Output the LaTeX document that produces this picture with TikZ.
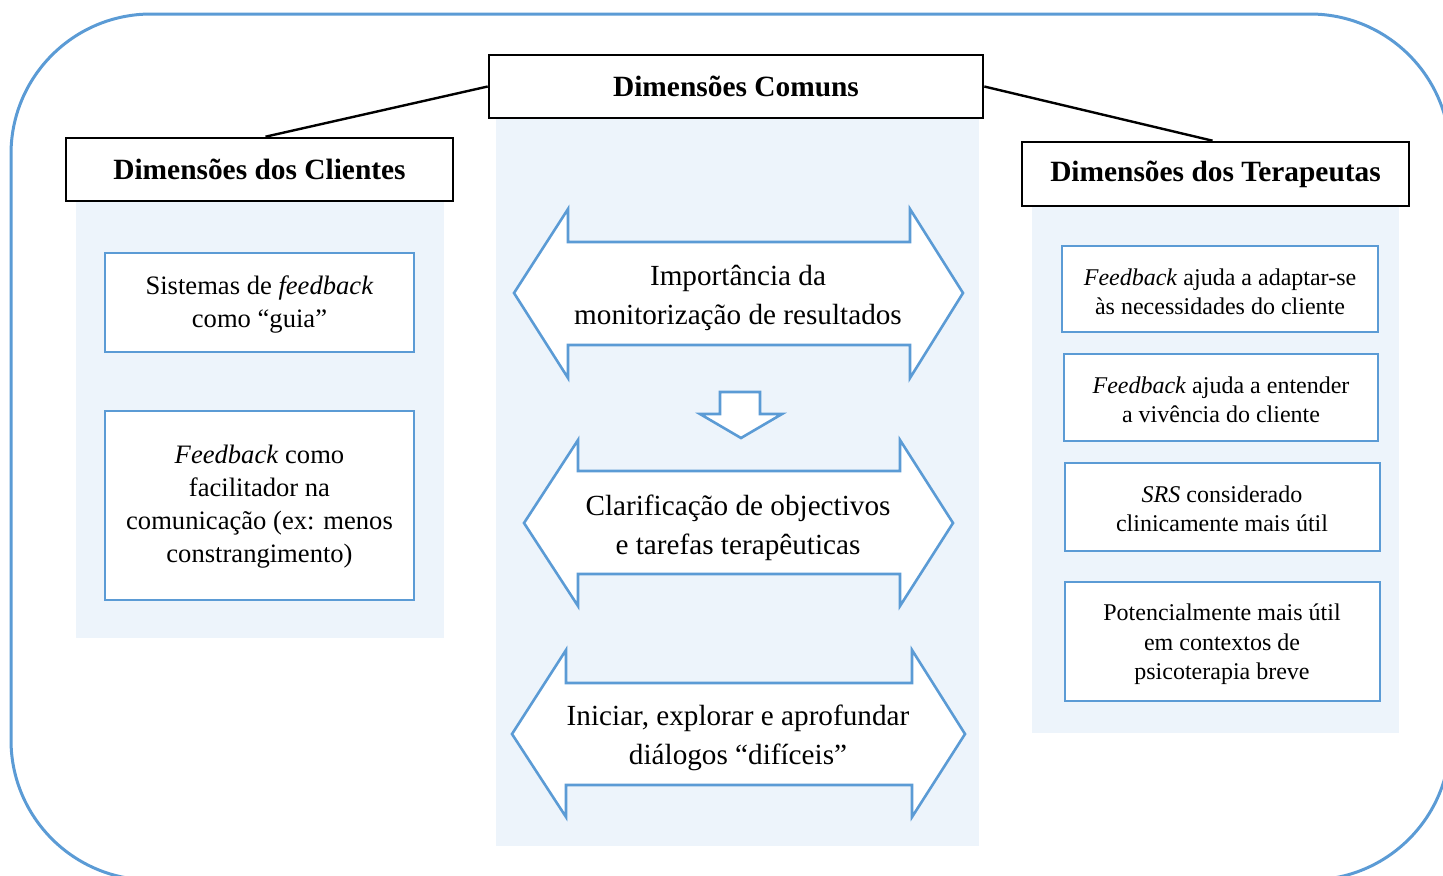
\documentclass[tikz,border=0pt]{standalone}
\usepackage{fontspec}
\setmainfont{Liberation Serif}
\usepackage{tikz}
\definecolor{boxblue}{RGB}{91,155,213}
\definecolor{panelblue}{RGB}{237,244,251}
\tikzset{
  panel/.style={fill=panelblue, draw=none},
  header/.style={draw=black, line width=1.3pt, fill=white, inner sep=0pt,
    font=\fontsize{14.7}{18}\selectfont\bfseries},
  itembox/.style={draw=boxblue, line width=1.4pt, fill=white, inner sep=0pt},
  bigarrow/.style={draw=boxblue, line width=1.3pt, fill=white, line join=miter},
  midtext/.style={align=center, font=\fontsize{14.6}{19.5}\selectfont},
  lefttext/.style={align=center, font=\fontsize{13.3}{16.5}\selectfont},
  righttext/.style={align=center, font=\fontsize{12}{14.75}\selectfont},
}
\begin{document}
\begin{tikzpicture}[x=0.5pt, y=-0.5pt]
  \clip (0,0) rectangle (1443,875);
  % outer frame
  \draw[draw=boxblue, line width=1.5pt, rounded corners=70pt] (11,14) rectangle (1450,880);
  % shaded panels
  \fill[panel] (76,200) rectangle (444,638);
  \fill[panel] (496,118) rectangle (979,846);
  \fill[panel] (1032,205) rectangle (1399,733);
  % headers
  \node[header, minimum width=247pt, minimum height=31.5pt] (comuns) at (736,86.5) {Dimensões Comuns};
  \node[header, minimum width=193.5pt, minimum height=31.5pt] (clientes) at (259.5,169.5) {Dimensões dos Clientes};
  \node[header, minimum width=193.5pt, minimum height=32pt] (terapeutas) at (1215.5,174) {\raisebox{-1pt}{Dimensões dos Terapeutas}};
  \draw[line width=1.2pt] (comuns.west) -- ([xshift=3pt]clientes.north);
  \draw[line width=1.2pt] (comuns.east) -- ([xshift=-1.5pt]terapeutas.north);
  % client boxes
  \node[itembox, minimum width=154.5pt, minimum height=49.5pt] (guia) at (259.5,302.5) {};
  \node[lefttext] (guiatxt) at (259.5,304.5) {Sistemas de \emph{feedback}\\como “guia”};
  \node[itembox, minimum width=154.5pt, minimum height=94.5pt] (facil) at (259.5,505.5) {};
  \node[lefttext] (faciltxt) at (259.5,507) {\emph{Feedback} como\\facilitador na\\comunicação (ex: menos\\constrangimento)};
  % common arrows
  \draw[bigarrow] (514,293) -- (568,209) -- (568,242) -- (910,242) -- (910,209) -- (963,293)
    -- (910,378) -- (910,345) -- (568,345) -- (568,378) -- cycle;
  \node[midtext] (monit) at (738,298) {Importância da\\monitorização de resultados};
  \draw[bigarrow] (720,392) -- (760,392) -- (760,414) -- (782,414) -- (741,438) -- (700,414) -- (720,414) -- cycle;
  \draw[bigarrow] (524,523) -- (578,440) -- (578,471) -- (900,471) -- (900,440) -- (953,523)
    -- (900,606) -- (900,574) -- (578,574) -- (578,606) -- cycle;
  \node[midtext] (objec) at (738,528) {Clarificação de objectivos\\e tarefas terapêuticas};
  \draw[bigarrow] (512,734) -- (566,650) -- (566,683) -- (912,683) -- (912,650) -- (965,734)
    -- (912,817) -- (912,785) -- (566,785) -- (566,817) -- cycle;
  \node[midtext] (dialog) at (738,738) {Iniciar, explorar e aprofundar\\diálogos “difíceis”};
  % therapist boxes
  \node[itembox, minimum width=158pt, minimum height=43pt] (adapt) at (1220,289) {};
  \node[righttext] (adapttxt) at (1220,292) {\emph{Feedback} ajuda a adaptar-se\\às necessidades do cliente};
  \node[itembox, minimum width=157pt, minimum height=43.5pt] (viv) at (1221,397.5) {};
  \node[righttext] (vivtxt) at (1221,400) {\emph{Feedback} ajuda a entender\\a vivência do cliente};
  \node[itembox, minimum width=157.5pt, minimum height=44pt] (srs) at (1222.5,507) {};
  \node[righttext] (srstxt) at (1222,509) {\emph{SRS} considerado\\clinicamente mais útil};
  \node[itembox, minimum width=157.5pt, minimum height=59.5pt] (breve) at (1222.5,641.5) {};
  \node[righttext] (brevetxt) at (1222,644.5) {Potencialmente mais útil\\em contextos de\\psicoterapia breve};
\end{tikzpicture}
\end{document}
